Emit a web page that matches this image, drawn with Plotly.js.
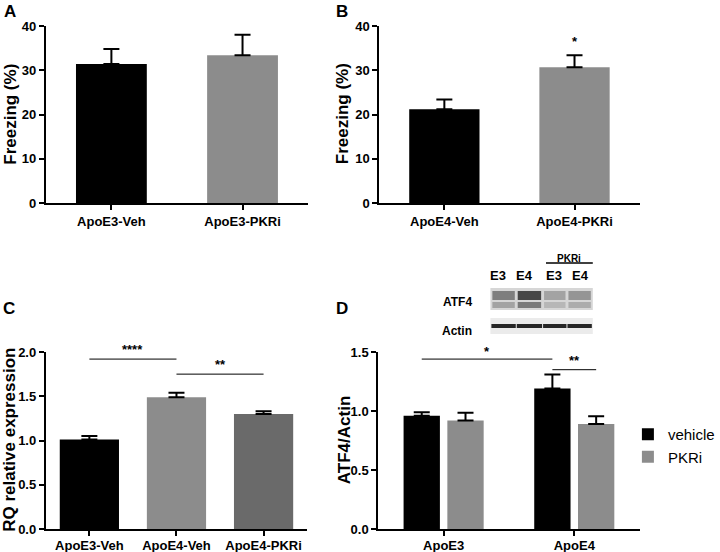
<!DOCTYPE html>
<html>
<head>
<meta charset="utf-8">
<script src="https://cdn.plot.ly/plotly-3.0.1.min.js"></script>
<style>html,body{margin:0;padding:0;background:#fff}#chart{width:720px;height:552px}</style>
</head>
<body>
<div id="chart"></div>
<script>
// ---- data ----
const catsA = ['ApoE3-Veh', 'ApoE3-PKRi'];
const freezeA = [31.4, 33.4];
const semA = [3.4, 4.6];

const catsB = ['ApoE4-Veh', 'ApoE4-PKRi'];
const freezeB = [21.2, 30.7];
const semB = [2.2, 2.7];

const catsC = ['ApoE3-Veh', 'ApoE4-Veh', 'ApoE4-PKRi'];
const rqC = [1.01, 1.49, 1.30];
const semC = [0.04, 0.05, 0.03];

const groupsD = ['ApoE3', 'ApoE4'];
const vehicleD = [0.96, 1.19];
const vehicleSemD = [0.03, 0.12];
const pkriD = [0.92, 0.89];
const pkriSemD = [0.065, 0.065];

const blotLanes = ['E3', 'E4', 'E3', 'E4'];
const yTitles = ['Freezing (%)', 'Freezing (%)', 'RQ relative expression', 'ATF4/Actin'];

// ---- helpers / styles ----
const W = 720, H = 552;
const px = x => x / W;
const py = y => 1 - y / H;
const FONT = 'Liberation Sans, Arial, Helvetica, sans-serif';
const BLACK = '#000000', GRAY = '#8c8c8c', DARKGRAY = '#6a6a6a';

function errBar(arr) {
  return {type: 'data', array: arr, arrayminus: arr.map(() => 0), symmetric: false,
          color: BLACK, thickness: 2, width: 8};
}

function yAxis(domain, range, dtick, fmt, anchor) {
  return {
    domain: domain, range: range, dtick: dtick, tick0: 0, tickformat: fmt,
    showline: true, linecolor: BLACK, linewidth: 2, mirror: false,
    ticks: 'outside', ticklen: 5, tickwidth: 2, tickcolor: BLACK,
    showgrid: false, zeroline: false, fixedrange: true, anchor: anchor,
    tickfont: {family: FONT, size: 13, weight: 'bold', color: BLACK}
  };
}
function xAxis(domain, n, anchor, standoff) {
  return {
    domain: domain, type: 'category', range: [-0.5, n - 0.5],
    showline: true, linecolor: BLACK, linewidth: 2,
    ticks: 'outside', ticklen: 5, tickwidth: 2, tickcolor: BLACK,
    showgrid: false, zeroline: false, fixedrange: true, anchor: anchor,
    ticklabelstandoff: standoff,
    tickfont: {family: FONT, size: 13, weight: 'bold', color: BLACK}
  };
}

const domTopY = [py(203), py(26)];
const domBotY = [py(529), py(352)];

const traces = [
  {type: 'bar', x: catsA, y: freezeA, width: 0.54, xaxis: 'x', yaxis: 'y',
   marker: {color: [BLACK, GRAY], line: {width: 0}}, error_y: errBar(semA),
   showlegend: false, hoverinfo: 'x+y'},
  {type: 'bar', x: catsB, y: freezeB, width: 0.54, xaxis: 'x2', yaxis: 'y2',
   marker: {color: [BLACK, GRAY], line: {width: 0}}, error_y: errBar(semB),
   showlegend: false, hoverinfo: 'x+y'},
  {type: 'bar', x: catsC, y: rqC, width: 0.68, xaxis: 'x3', yaxis: 'y3',
   marker: {color: [BLACK, GRAY, DARKGRAY], line: {width: 0}}, error_y: errBar(semC),
   showlegend: false, hoverinfo: 'x+y'},
  {type: 'bar', name: 'vehicle', x: groupsD, y: vehicleD, xaxis: 'x4', yaxis: 'y4',
   marker: {color: BLACK, line: {width: 0}}, error_y: errBar(vehicleSemD)},
  {type: 'bar', name: 'PKRi', x: groupsD, y: pkriD, xaxis: 'x4', yaxis: 'y4',
   marker: {color: GRAY, line: {width: 0}}, error_y: errBar(pkriSemD)}
];

const GOFF = 0.1675; // half slot offset of grouped bars (bargap 0.33)

function sigLine(xr, yr, x0, x1, y) {
  return {type: 'line', xref: xr, yref: yr, x0: x0, x1: x1, y0: y, y1: y,
          line: {color: BLACK, width: 1}};
}
function txt(text, x, y, size, opts) {
  return Object.assign({text: text, x: x, y: y, xref: 'paper', yref: 'paper',
    xanchor: 'center', yanchor: 'middle', showarrow: false,
    font: {family: FONT, size: size, weight: 'bold', color: BLACK}}, opts || {});
}
function star(text, x, y, xr, yr, shift) {
  return {text: text, x: x, y: y, xref: xr, yref: yr, showarrow: false, yshift: shift,
          xanchor: 'center', yanchor: 'middle',
          font: {family: FONT, size: 13, weight: 'bold', color: BLACK}};
}

const shapes = [
  sigLine('x3', 'y3', 0, 1, 1.92),
  sigLine('x3', 'y3', 1, 2, 1.75),
  sigLine('x4', 'y4', 0 - GOFF, 1 - GOFF, 1.44),
  sigLine('x4', 'y4', 1 - GOFF, 1 + GOFF, 1.35),
  // blot frames
  {type: 'rect', xref: 'paper', yref: 'paper', x0: px(503), x1: px(608), y0: py(310), y1: py(288),
   fillcolor: '#d6d6d6', line: {width: 0}, layer: 'above'},
  {type: 'rect', xref: 'paper', yref: 'paper', x0: px(503), x1: px(608), y0: py(334), y1: py(318),
   fillcolor: '#ebebeb', line: {width: 0}, layer: 'above'},
  // PKRi bar
  {type: 'line', xref: 'paper', yref: 'paper', x0: px(560), x1: px(608), y0: py(263), y1: py(263),
   line: {color: BLACK, width: 1.5}}
];
// blot bands
const laneX = [[504, 529], [530, 556], [557, 581], [582, 607]];
const atfUpper = ['#6e6e6e', '#2e2e2e', '#9a9a9a', '#8a8a8a'];
const atfLower = ['#9a9a9a', '#6a6a6a', '#b2b2b2', '#a4a4a4'];
laneX.forEach((l, i) => {
  shapes.push({type: 'rect', xref: 'paper', yref: 'paper', x0: px(l[0] + 1), x1: px(l[1] - 1),
    y0: py(300), y1: py(291), fillcolor: atfUpper[i], line: {width: 0}, opacity: 0.85, layer: 'above'});
  shapes.push({type: 'rect', xref: 'paper', yref: 'paper', x0: px(l[0] + 1), x1: px(l[1] - 1),
    y0: py(308), y1: py(302), fillcolor: atfLower[i], line: {width: 0}, opacity: 0.85, layer: 'above'});
  shapes.push({type: 'rect', xref: 'paper', yref: 'paper', x0: px(l[0]), x1: px(l[1]),
    y0: py(328), y1: py(324), fillcolor: '#262626', line: {width: 0}, layer: 'above'});
});

const annotations = [
  txt('A', px(10), py(12), 17),
  txt('B', px(351), py(12), 17),
  txt('C', px(9), py(308), 17),
  txt('D', px(351), py(308), 17),
  star('*', 1, 33.4, 'x2', 'y2', 14),
  star('****', 0.5, 1.92, 'x3', 'y3', 10),
  star('**', 1.5, 1.75, 'x3', 'y3', 10),
  star('*', 0.5 - GOFF, 1.44, 'x4', 'y4', 8),
  star('**', 1, 1.35, 'x4', 'y4', 9),
  txt('ATF4', px(486), py(302), 12, {xanchor: 'right'}),
  txt('Actin', px(486), py(331), 12, {xanchor: 'right'}),
  txt('PKRi', px(584), py(258), 10)
];
// y-axis titles (vertical)
const yTitlePos = [[10, 114], [351, 114], [9, 440], [353, 440]];
yTitles.forEach((t, i) => annotations.push(
  txt(t, px(yTitlePos[i][0]), py(yTitlePos[i][1]), 17, {textangle: -90})));
const laneCenters = [511, 538, 568, 595];
blotLanes.forEach((t, i) => annotations.push(txt(t, px(laneCenters[i]), py(275), 13)));

const layout = {
  width: W, height: H,
  margin: {l: 0, r: 0, t: 0, b: 0},
  paper_bgcolor: '#ffffff', plot_bgcolor: 'rgba(0,0,0,0)',
  barmode: 'group', bargap: 0.33, bargroupgap: 0.17,
  font: {family: FONT, color: BLACK},
  showlegend: true,
  legend: {x: px(644), y: py(418), xanchor: 'left', yanchor: 'top',
           font: {family: FONT, size: 15, color: BLACK}, bgcolor: 'rgba(0,0,0,0)',
           itemwidth: 30, tracegroupgap: 0},
  xaxis: xAxis([px(47), px(316)], 2, 'y', 0),
  yaxis: yAxis(domTopY, [0, 40], 10, '', 'x'),
  xaxis2: xAxis([px(389), px(656)], 2, 'y2', 0),
  yaxis2: yAxis(domTopY, [0, 40], 10, '', 'x2'),
  xaxis3: xAxis([px(47), px(315)], 3, 'y3', -2),
  yaxis3: yAxis(domBotY, [0, 2], 0.5, '.1f', 'x3'),
  xaxis4: xAxis([px(388), px(656)], 2, 'y4', -2),
  yaxis4: yAxis(domBotY, [0, 1.5], 0.5, '.1f', 'x4'),
  shapes: shapes,
  annotations: annotations
};

Plotly.newPlot('chart', traces, layout, {displayModeBar: false, staticPlot: true});
</script>
</body>
</html>
